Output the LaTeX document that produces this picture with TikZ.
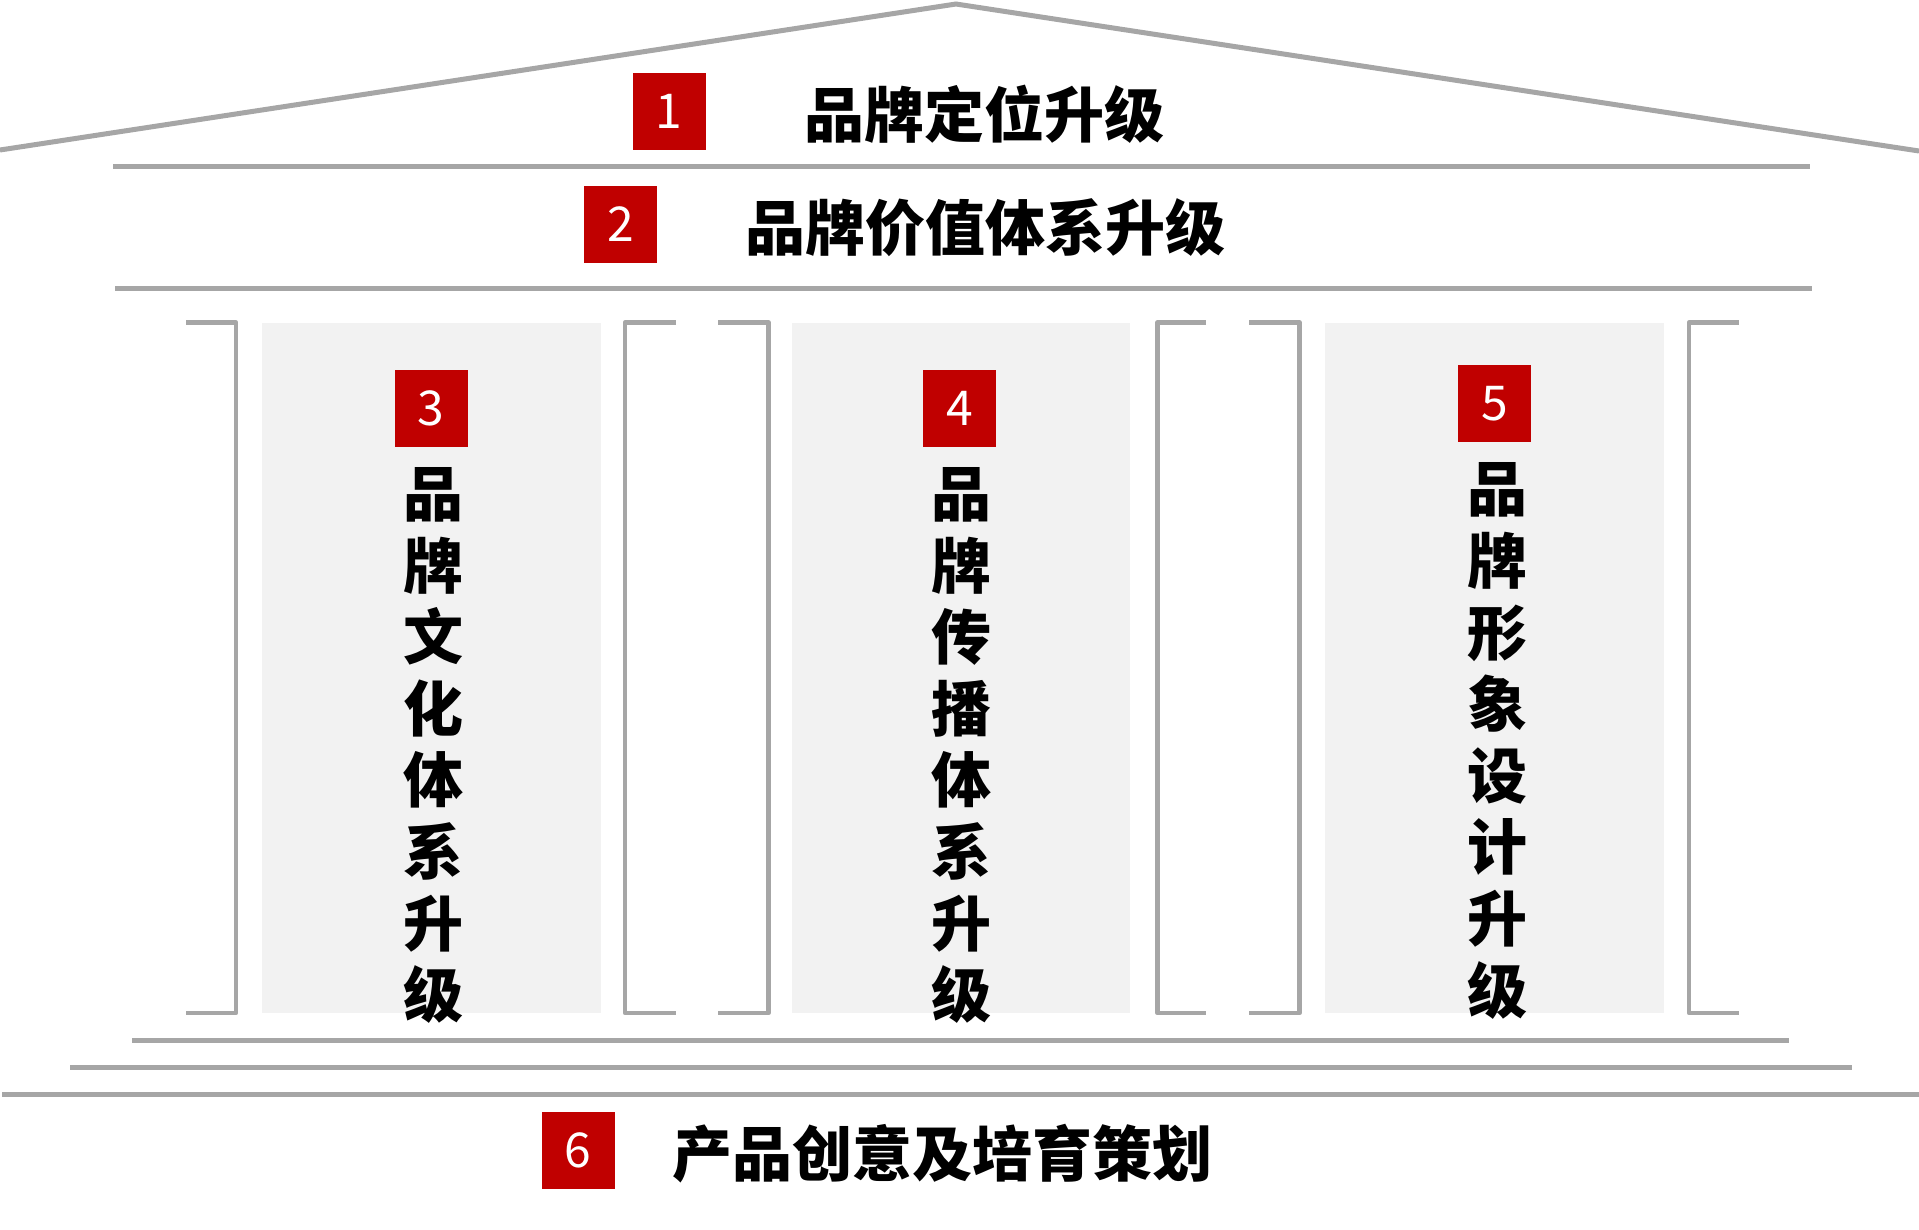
\documentclass[tikz,border=0pt]{standalone}
\usepackage{fontspec}
\newfontfamily\cjk{Noto Sans CJK SC}
\definecolor{cred}{RGB}{192,0,0}
\definecolor{lgrey}{RGB}{166,166,166}
\definecolor{pfill}{RGB}{242,242,242}
\begin{document}
\begin{tikzpicture}[x=1pt,y=-1pt,
  gline/.style={draw=lgrey, line width=5pt},
  bline/.style={draw=lgrey, line width=4.5pt, line join=round},
  numbox/.style={fill=cred, minimum width=73pt, minimum height=77pt, inner sep=0pt, text=white, font=\cjk\fontsize{48}{48}\selectfont},
  title/.style={inner sep=0pt, font=\cjk\bfseries\fontsize{60}{60}\selectfont},
  vtext/.style={inner sep=0pt, align=center, font=\cjk\bfseries\fontsize{60}{71.6}\selectfont}]
\useasboundingbox (0,0) rectangle (1919,1229);
% roof
\draw[gline, line join=miter] (0,150) -- (956,4) -- (1919,151);
% horizontal beams
\draw[gline] (113,166) -- (1810,166);
\draw[gline] (115,288) -- (1812,288);
\draw[gline] (132,1040) -- (1789,1040);
\draw[gline] (70,1067) -- (1852,1067);
\draw[gline] (2,1094) -- (1919,1094);
% pillars
\fill[pfill] (262,323) rectangle (601,1013);
\fill[pfill] (792,323) rectangle (1130,1013);
\fill[pfill] (1325,323) rectangle (1664,1013);
% brackets
\draw[bline] (186,322.5) -- (236,322.5) -- (236,1013) -- (186,1013);
\draw[bline] (676,322.5) -- (625,322.5) -- (625,1013) -- (676,1013);
\draw[bline] (718,322.5) -- (768.5,322.5) -- (768.5,1013) -- (718,1013);
\draw[bline] (1206,322.5) -- (1157.5,322.5) -- (1157.5,1013) -- (1206,1013);
\draw[bline] (1249,322.5) -- (1299.5,322.5) -- (1299.5,1013) -- (1249,1013);
\draw[bline] (1738.5,322.5) -- (1689,322.5) -- (1689,1013) -- (1738.5,1013);
% numbered boxes and titles
\node[numbox] (n1) at (669,111.5) {1};
\node[title] (t1) at (984.5,114) {品牌定位升级};
\node[numbox] (n2) at (620.5,224.5) {2};
\node[title] (t2) at (985.5,227.5) {品牌价值体系升级};
\node[numbox] (n3) at (431,408.5) {3};
\node[numbox] (n4) at (959.5,408) {4};
\node[numbox] (n5) at (1494.5,403.5) {5};
\node[vtext] (v1) at (433,745.5) {品\\牌\\文\\化\\体\\系\\升\\级};
\node[vtext] (v2) at (961,745.5) {品\\牌\\传\\播\\体\\系\\升\\级};
\node[vtext] (v3) at (1497,741) {品\\牌\\形\\象\\设\\计\\升\\级};
\node[numbox] (n6) at (578,1150.5) {6};
\node[title] (t6) at (942,1154) {产品创意及培育策划};
\end{tikzpicture}
\end{document}
